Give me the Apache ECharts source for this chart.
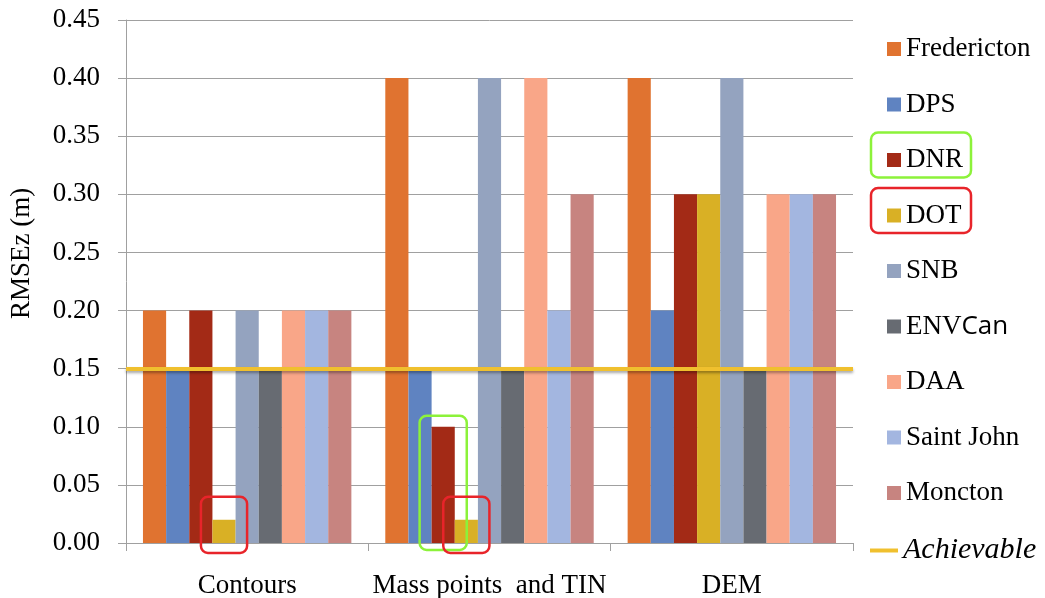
<!DOCTYPE html>
<html>
<head>
<meta charset="utf-8">
<script src="https://cdn.jsdelivr.net/npm/echarts@6/dist/echarts.min.js"></script>
<style>
  html, body { margin: 0; padding: 0; background: #fff; }
  #chart { width: 1045px; height: 598px; }
</style>
</head>
<body>
<div id="chart"></div>
<script>
// Categories and RMSEz values (m) per agency
const categories = ['Contours', 'Mass points  and TIN', 'DEM'];
const agencies = ['Fredericton', 'DPS', 'DNR', 'DOT', 'SNB', 'ENVCan', 'DAA', 'Saint John', 'Moncton'];
const fredericton = [0.20, 0.40, 0.40];
const dps         = [0.15, 0.15, 0.20];
const dnr         = [0.20, 0.10, 0.30];
const dot         = [0.02, 0.02, 0.30];
const snb         = [0.20, 0.40, 0.40];
const envcan      = [0.15, 0.15, 0.15];
const daa         = [0.20, 0.40, 0.30];
const saintJohn   = [0.20, 0.20, 0.30];
const moncton     = [0.20, 0.30, 0.30];
const achievable  = 0.15;
const yTicks = { min: 0, max: 0.45, step: 0.05 };

const values = [fredericton, dps, dnr, dot, snb, envcan, daa, saintJohn, moncton];
const colors = ['#E07330', '#5F83C1', '#A32A16', '#D9B025', '#94A3BF', '#676B72', '#F9A688', '#A3B6E0', '#C78480'];

const SERIF = 'Liberation Serif';

const barSeries = agencies.map((name, i) => ({
  name: name,
  type: 'bar',
  data: values[i],
  barGap: 0,
  barCategoryGap: '14%',
  itemStyle: { color: colors[i] },
  z: 2
}));

const lineSeries = {
  name: 'Achievable',
  type: 'line',
  data: [],
  symbol: 'none',
  z: 10,
  itemStyle: { color: '#F0C02E' },
  lineStyle: { color: '#F0C02E', width: 4 },
  markLine: {
    silent: true,
    symbol: ['none', 'none'],
    label: { show: false },
    lineStyle: {
      color: '#F0C02E', width: 4, type: 'solid',
      shadowColor: 'rgba(0,0,0,0.35)', shadowBlur: 3, shadowOffsetY: 2
    },
    data: [{ yAxis: achievable }]
  }
};

const legendTop = 29, legendStep = 55.5, legendLine = 30;

const chart = echarts.init(document.getElementById('chart'), null, { renderer: 'canvas' });
chart.setOption({
  animation: false,
  backgroundColor: '#ffffff',
  grid: { left: 126, right: 192, top: 20, bottom: 55, containLabel: false, outerBoundsMode: 'none' },
  legend: [
    {
      data: agencies,
      orient: 'vertical',
      left: 882,
      top: legendTop,
      icon: 'rect',
      itemWidth: 14,
      itemHeight: 14,
      itemGap: legendStep - legendLine,
      selectedMode: false,
      formatter: name => name === 'ENVCan' ? '{a|ENV}{b|Can}' : name,
      textStyle: {
        fontFamily: SERIF, fontSize: 27, color: '#000', lineHeight: legendLine,
        rich: {
          a: { fontFamily: SERIF, fontSize: 27, color: '#000', lineHeight: legendLine },
          b: { fontFamily: 'Open Sans', fontSize: 26, color: '#000', lineHeight: legendLine }
        }
      }
    },
    {
      data: ['Achievable'],
      orient: 'vertical',
      left: 865,
      top: legendTop + 9 * legendStep + 2,
      icon: 'rect',
      itemWidth: 28,
      itemHeight: 4,
      selectedMode: false,
      textStyle: { fontFamily: SERIF, fontSize: 30, fontStyle: 'italic', color: '#000', lineHeight: legendLine }
    }
  ],
  xAxis: {
    type: 'category',
    data: categories,
    boundaryGap: true,
    axisLine: { show: true, lineStyle: { color: '#A0A0A0', width: 1 } },
    axisTick: { show: true, length: 8, alignWithLabel: false, lineStyle: { color: '#A0A0A0' } },
    axisLabel: { interval: 0, margin: 29, fontFamily: SERIF, fontSize: 27, color: '#000' },
    splitLine: { show: false }
  },
  yAxis: {
    type: 'value',
    min: yTicks.min,
    max: yTicks.max,
    interval: yTicks.step,
    name: 'RMSEz (m)',
    nameLocation: 'middle',
    nameGap: 91,
    nameRotate: 90,
    nameTextStyle: { fontFamily: SERIF, fontSize: 27, color: '#000', padding: [0, 0, 0, 56] },
    axisLine: { show: true, lineStyle: { color: '#A0A0A0', width: 1 } },
    axisTick: { show: true, length: 8, lineStyle: { color: '#A0A0A0' } },
    axisLabel: {
      margin: 26, fontFamily: SERIF, fontSize: 27, color: '#000',
      formatter: v => v.toFixed(2)
    },
    splitLine: { show: true, lineStyle: { color: '#A0A0A0', width: 1 } }
  },
  series: barSeries.concat([lineSeries])
});

// Highlight frames around selected bars and legend entries
const RED = '#E8242A', GREEN = '#8CF23A';
const frames = [
  { series: 'DNR', cat: 1, color: GREEN, padX: 12, padTop: 11, padBottom: 7 },
  { series: 'DOT', cat: 0, color: RED, padX: 11.5, padTop: 23, padBottom: 10 },
  { series: 'DOT', cat: 1, color: RED, padX: 11.5, padTop: 23, padBottom: 10 }
];

function frameRect(x, y, w, h, color) {
  return {
    type: 'rect', silent: true, z: 100,
    shape: { x: x, y: y, width: w, height: h, r: 7 },
    style: { fill: 'none', stroke: color, lineWidth: 2.5 }
  };
}

const graphics = [];
const model = chart.getModel();
frames.forEach(f => {
  const idx = agencies.indexOf(f.series);
  const data = model.getSeriesByIndex(idx).getData();
  const lay = data.getItemLayout(f.cat);
  const top = Math.min(lay.y, lay.y + lay.height);
  const bottom = Math.max(lay.y, lay.y + lay.height);
  graphics.push(frameRect(lay.x - f.padX, top - f.padTop, lay.width + 2 * f.padX,
    bottom - top + f.padTop + f.padBottom, f.color));
});

// Legend entry frames for DNR and DOT
[['DNR', GREEN], ['DOT', RED]].forEach(([name, color]) => {
  const i = agencies.indexOf(name);
  const cy = legendTop + legendLine / 2 + i * legendStep;
  graphics.push(frameRect(871, cy - 22.5, 100, 45, color));
});

chart.setOption({ graphic: graphics });
</script>
</body>
</html>
